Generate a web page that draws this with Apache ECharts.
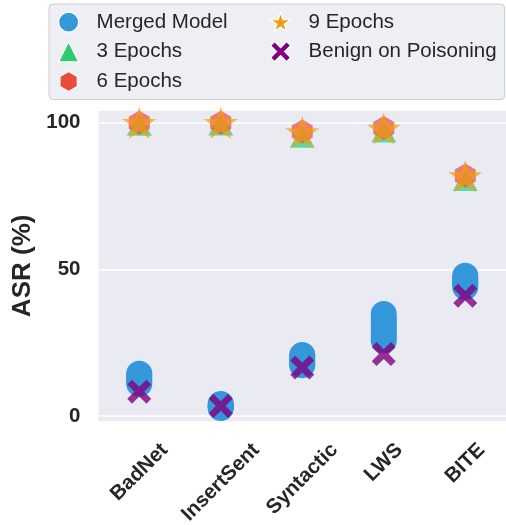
<!DOCTYPE html>
<html>
<head>
<meta charset="utf-8">
<script src="https://cdn.jsdelivr.net/npm/echarts@6/dist/echarts.min.js"></script>
<style>
html,body{margin:0;padding:0;background:#fff;}
#chart{width:506px;height:525px;}
</style>
</head>
<body>
<div id="chart"></div>
<script>
// ---- data ----
const categories = ['BadNet', 'InsertSent', 'Syntactic', 'LWS', 'BITE'];
const mergedModel = [
  [11.0, 11.7, 12.6, 13.1, 13.9, 14.4],
  [2.7, 3.1, 3.5, 3.8, 4.1, 3.3],
  [17.3, 17.9, 18.8, 19.4, 20.3, 20.8],
  [25.8, 27.1, 28.3, 29.6, 30.8, 32.1, 33.2, 34.8],
  [44.0, 44.9, 45.6, 46.5, 47.1, 47.8]
];
const epochs3 = [99.3, 99.4, 95.2, 97.0, 80.5];
const epochs6 = [100.0, 100.0, 97.0, 98.2, 82.0];
const epochs9 = [100.0, 100.0, 96.8, 98.0, 81.8];
const benignOnPoisoning = [8.3, 3.4, 16.5, 21.1, 41.0];
const yTicks = [0, 50, 100];
const seriesNames = ['Merged Model', '3 Epochs', '6 Epochs', '9 Epochs', 'Benign on Poisoning'];

// ---- style ----
const FONT = '"Liberation Sans", Arial, sans-serif';
const TXT = '#262626';
const STAR = 'path://M0,-1 L0.2245,-0.309 L0.951,-0.309 L0.3633,0.118 L0.588,0.809 L0,0.382 L-0.588,0.809 L-0.3633,0.118 L-0.951,-0.309 L-0.2245,-0.309 Z';
const HEX = 'path://M0,-1 L0.866,-0.5 L0.866,0.5 L0,1 L-0.866,0.5 L-0.866,-0.5 Z';
const XMARK = 'path://M-1,-0.6 L-0.6,-1 L0,-0.4 L0.6,-1 L1,-0.6 L0.4,0 L1,0.6 L0.6,1 L0,0.4 L-0.6,1 L-1,0.6 L-0.4,0 Z';

const toPairs = arr => arr.map((v, i) => [i, v]);
const mergedPairs = [];
mergedModel.forEach((vals, i) => vals.forEach(v => mergedPairs.push([i, v])));

const chart = echarts.init(document.getElementById('chart'), null, {renderer: 'canvas'});

const legendText = {
  fontFamily: FONT, fontSize: 20.5, color: TXT,
  rich: {t: {fontFamily: FONT, fontSize: 20.5, color: TXT, lineHeight: 20, padding: [0, 0, 0, 13]}}
};

const option = {
  animation: false,
  backgroundColor: '#ffffff',
  textStyle: {fontFamily: FONT},
  grid: {left: 98.5, top: 110, width: 410, height: 311.7, show: true, backgroundColor: '#eaeaf2', borderWidth: 0, containLabel: false},
  legend: [
    {
      orient: 'vertical', left: 49, top: 4,
      padding: [7.5, 277, 7.5, 9],
      itemWidth: 20, itemHeight: 20, itemGap: 8.5,
      backgroundColor: 'rgba(234,234,242,0.8)', borderColor: '#cccccc', borderWidth: 1, borderRadius: 4,
      data: seriesNames.slice(0, 3),
      formatter: n => '{t|' + n + '}',
      textStyle: legendText,
      itemStyle: {opacity: 1, borderColor: '#ffffff', borderWidth: 1.2}
    },
    {
      orient: 'vertical', left: 270, top: 11.5, padding: 0, z: 5,
      itemWidth: 20, itemHeight: 20, itemGap: 8.5,
      data: seriesNames.slice(3),
      formatter: n => '{t|' + n + '}',
      textStyle: legendText,
      itemStyle: {opacity: 1, borderColor: '#ffffff', borderWidth: 1.2}
    }
  ],
  xAxis: {
    type: 'category', data: categories, boundaryGap: true,
    axisLine: {show: false}, axisTick: {show: false},
    axisLabel: {show: false},
    splitLine: {show: false}
  },
  yAxis: {
    type: 'value', min: -1.94, max: 104.33, splitNumber: 2,
    name: 'ASR (%)', nameLocation: 'middle', nameGap: 58,
    nameTextStyle: {fontFamily: FONT, fontSize: 26, fontWeight: 'bold', color: TXT},
    axisLine: {show: false}, axisTick: {show: false},
    axisLabel: {
      margin: 18, fontFamily: FONT, fontSize: 20.5, fontWeight: 'bold', color: TXT,
      showMinLabel: false, showMaxLabel: false,
      formatter: v => (yTicks.indexOf(Math.round(v * 100) / 100) >= 0 ? String(v) : '')
    },
    splitLine: {show: true, lineStyle: {color: '#ffffff', width: 1.6}}
  },
  series: [
    {name: seriesNames[0], type: 'scatter', data: mergedPairs, symbol: 'circle', symbolSize: 26,
     itemStyle: {color: '#3498db', opacity: 1}},
    {name: seriesNames[1], type: 'scatter', data: toPairs(epochs3), symbol: 'triangle', symbolSize: [25, 22],
     itemStyle: {color: '#2ecc71', opacity: 0.7}},
    {name: seriesNames[2], type: 'scatter', data: toPairs(epochs6), symbol: HEX, symbolSize: [21, 24],
     itemStyle: {color: '#e74c3c', opacity: 0.7}},
    {name: seriesNames[3], type: 'scatter', data: toPairs(epochs9), symbol: STAR, symbolSize: [34, 32],
     itemStyle: {color: '#f39c12', opacity: 0.7}},
    {name: seriesNames[4], type: 'scatter', data: toPairs(benignOnPoisoning), symbol: XMARK, symbolSize: 24,
     itemStyle: {color: '#800080', opacity: 0.8}}
  ]
};
chart.setOption(option);

// rotated x tick labels, centred horizontally on each category (matplotlib ha='center')
const cv = document.createElement('canvas').getContext('2d');
const LBL_FONT = 'bold 20.5px "Liberation Sans"';
cv.font = LBL_FONT;
const labelTop = 441.5;
const graphics = categories.map((c, i) => {
  const px = chart.convertToPixel({xAxisIndex: 0}, c);
  const w = cv.measureText(c).width;
  const cy = labelTop + (w + 15) * 0.7071 / 2;
  return {
    type: 'text', x: px, y: cy, rotation: Math.PI / 4, silent: true,
    style: {text: c, font: LBL_FONT, fill: TXT, align: 'center', verticalAlign: 'middle'}
  };
});
chart.setOption({graphic: graphics});
</script>
</body>
</html>
